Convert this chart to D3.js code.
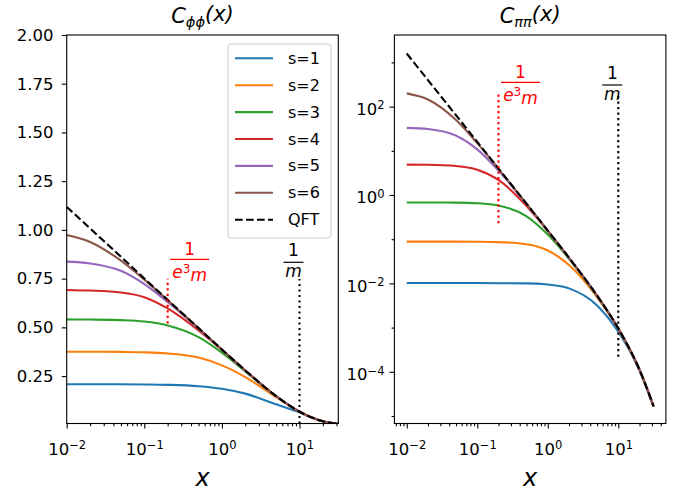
<!DOCTYPE html>
<html>
<head>
<meta charset="utf-8">
<script src="https://cdn.jsdelivr.net/npm/d3@7"></script>
<style>
  body { margin: 0; background: #fff; }
  text { font-family: "DejaVu Sans", sans-serif; }
</style>
</head>
<body>
<svg id="fig" width="680" height="493"></svg>
<script>
// sample positions (x) shared by every curve
const xs = [0.01, 0.02, 0.05, 0.1, 0.2, 0.5, 1, 2, 5, 10, 20, 31.62];

// C_phiphi(x)
const phiQFT = [1.118, 1.008, 0.862, 0.751, 0.641, 0.496, 0.386, 0.279, 0.147, 0.067, 0.0181, 0.0046];
const phiS1 = [0.208, 0.208, 0.208, 0.207, 0.205, 0.198, 0.185, 0.160, 0.105, 0.064, 0.0177, 0.0045];
const phiS2 = [0.375, 0.375, 0.374, 0.372, 0.366, 0.345, 0.305, 0.245, 0.142, 0.067, 0.0181, 0.0046];
const phiS3 = [0.541, 0.540, 0.537, 0.530, 0.510, 0.450, 0.370, 0.274, 0.147, 0.067, 0.0181, 0.0046];
const phiS4 = [0.692, 0.689, 0.679, 0.655, 0.597, 0.484, 0.384, 0.279, 0.147, 0.067, 0.0181, 0.0046];
const phiS5 = [0.837, 0.828, 0.790, 0.722, 0.630, 0.493, 0.386, 0.279, 0.147, 0.067, 0.0181, 0.0046];
const phiS6 = [0.974, 0.938, 0.842, 0.745, 0.639, 0.496, 0.386, 0.279, 0.147, 0.067, 0.0181, 0.0046];

// C_pipi(x) (log scale)
const piQFT = [1592, 397.9, 63.66, 15.91, 3.975, 0.6338, 0.1568, 0.0380, 0.005273, 0.000958, 0.0001113, 0.0000166];
const piS1 = [0.0102, 0.0102, 0.0102, 0.0102, 0.0101, 0.0100, 0.00943, 0.00771, 0.00318, 0.000805, 0.000105, 0.0000163];
const piS2 = [0.088, 0.088, 0.088, 0.0875, 0.0859, 0.0768, 0.0556, 0.0260, 0.00488, 0.000935, 0.000110, 0.0000166];
const piS3 = [0.678, 0.677, 0.671, 0.651, 0.580, 0.328, 0.127, 0.0359, 0.00515, 0.000958, 0.0001113, 0.0000166];
const piS4 = [4.86, 4.82, 4.53, 3.73, 2.19, 0.561, 0.152, 0.0375, 0.005273, 0.000958, 0.0001113, 0.0000166];
const piS5 = [33.0, 31.1, 22.0, 10.8, 3.56, 0.622, 0.155, 0.0380, 0.005273, 0.000958, 0.0001113, 0.0000166];
const piS6 = [199, 145, 49.7, 14.9, 3.91, 0.634, 0.1568, 0.0380, 0.005273, 0.000958, 0.0001113, 0.0000166];

const seriesNames = ["s=1", "s=2", "s=3", "s=4", "s=5", "s=6"];
const seriesColors = ["#1f77b4", "#ff7f0e", "#2ca02c", "#d62728", "#9467bd", "#8c564b"];

// vertical markers: x position, and the y span of each dotted line
const markX = [0.2, 10];
const phiMarkSpan = [[0.52, 0.75], [0.0067, 0.748]];
const piMarkSpan = [[0.23, 196], [0.00022, 200]];

const svg = d3.select("#fig");
const tickFont = "16.5px";

const panels = [
  {
    id: "L", left: 66.7, right: 338.3, top: 35, bottom: 423.5,
    x: d3.scaleLog().domain([0.01, 31.62]),
    y: d3.scaleLinear().domain([0.0067, 2]),
    qft: phiQFT, curves: [phiS1, phiS2, phiS3, phiS4, phiS5, phiS6],
    span: phiMarkSpan, sub: "\u03d5\u03d5", labelY: [259.3, 262.3]
  },
  {
    id: "R", left: 394.4, right: 665.9, top: 35, bottom: 423.5,
    x: d3.scaleLog().domain([Math.pow(10, -2.175), Math.pow(10, 1.675)]),
    y: d3.scaleLog().domain([Math.pow(10, -5.17), Math.pow(10, 3.62)]),
    qft: piQFT, curves: [piS1, piS2, piS3, piS4, piS5, piS6],
    span: piMarkSpan, sub: "\u03c0\u03c0", labelY: [82.3, 85]
  }
];

const supText = e => (e < 0 ? "\u2212" + (-e) : "" + e);

function logLabel(sel) {
  sel.each(function (d) {
    const t = d3.select(this);
    const e = Math.round(Math.log10(d));
    t.text("");
    t.append("tspan").text("10");
    t.append("tspan").attr("dy", "-0.5em").style("font-size", "11.5px").text(supText(e));
  });
}

function minorTicks(domain) {
  const out = [];
  const lo = Math.floor(Math.log10(domain[0])), hi = Math.ceil(Math.log10(domain[1]));
  for (let e = lo; e <= hi; e++) {
    for (let k = 2; k <= 9; k++) {
      const v = k * Math.pow(10, e);
      if (v >= domain[0] && v <= domain[1]) out.push(v);
    }
  }
  return out;
}

panels.forEach(p => {
  p.x.range([p.left, p.right]);
  p.y.range([p.bottom, p.top]);
  const w = p.right - p.left, h = p.bottom - p.top;

  svg.append("clipPath").attr("id", "clip" + p.id)
    .append("rect").attr("x", p.left).attr("y", p.top).attr("width", w).attr("height", h);

  const plot = svg.append("g").attr("clip-path", `url(#clip${p.id})`);
  const line = d3.line()
    .x((d, i) => p.x(xs[i]))
    .y(d => p.y(d))
    .curve(d3.curveMonotoneX);

  p.curves.forEach((vals, i) => {
    plot.append("path")
      .attr("d", line(vals))
      .attr("fill", "none")
      .attr("stroke", seriesColors[i])
      .attr("stroke-width", 2.1);
  });
  plot.append("path")
    .attr("d", line(p.qft))
    .attr("fill", "none")
    .attr("stroke", "#000")
    .attr("stroke-width", 2.1)
    .attr("stroke-dasharray", "7.7,3.3");

  // dotted markers 1/(e^3 m) and 1/m
  markX.forEach((mx, i) => {
    plot.append("line")
      .attr("x1", p.x(mx)).attr("x2", p.x(mx))
      .attr("y1", p.y(p.span[i][0])).attr("y2", p.y(p.span[i][1]))
      .attr("stroke", i === 0 ? "#ff0000" : "#000")
      .attr("stroke-width", 2.1)
      .attr("stroke-dasharray", "2.1,3.4");
  });

  // fraction labels
  const fr = [
    { x: p.x(0.2) + 22, color: "#ff0000", den: "e3m", by: p.labelY[0] },
    { x: p.x(10) - 6, color: "#000", den: "m", by: p.labelY[1] }
  ];
  fr.forEach(f => {
    const g = svg.append("g").attr("fill", f.color);
    const isM = f.den === "m";
    g.append("text").attr("x", f.x).attr("y", f.by - (isM ? 6.5 : 4)).attr("text-anchor", "middle")
      .style("font-size", "17px").text("1");
    const halfW = isM ? 10 : 19.5;
    g.append("line").attr("x1", f.x - halfW).attr("x2", f.x + halfW)
      .attr("y1", f.by).attr("y2", f.by).attr("stroke", f.color).attr("stroke-width", 1.2);
    const d = g.append("text").attr("x", f.x).attr("y", f.by + (isM ? 15 : 19)).attr("text-anchor", "middle")
      .style("font-size", "17px").style("font-style", "italic");
    if (isM) {
      d.text("m");
    } else {
      d.append("tspan").text("e");
      d.append("tspan").attr("dy", "-0.45em").style("font-size", "12px").style("font-style", "normal").text("3");
      d.append("tspan").attr("dy", "0.45em").text("m");
    }
  });

  // axes
  const xMajor = [0.01, 0.1, 1, 10];
  const gx = svg.append("g").attr("transform", `translate(0,${p.bottom})`)
    .call(d3.axisBottom(p.x).tickValues(xMajor).tickSize(4.9));
  gx.selectAll("text").attr("y", 31.5).attr("dy", null)
    .style("font-size", tickFont).attr("fill", "#000").call(logLabel);
  svg.append("g").attr("transform", `translate(0,${p.bottom})`)
    .call(d3.axisBottom(p.x).tickValues(minorTicks(p.x.domain())).tickSize(2.8).tickFormat(""));

  let gy;
  if (p.id === "L") {
    gy = svg.append("g").attr("transform", `translate(${p.left},0)`)
      .call(d3.axisLeft(p.y).tickValues([0.25, 0.5, 0.75, 1, 1.25, 1.5, 1.75, 2])
        .tickFormat(d3.format(".2f")).tickSize(4.9).tickPadding(8.3));
    gy.selectAll("text").style("font-size", tickFont).attr("fill", "#000");
  } else {
    gy = svg.append("g").attr("transform", `translate(${p.left},0)`)
      .call(d3.axisLeft(p.y).tickValues([1e-4, 1e-2, 1, 100]).tickSize(4.9).tickPadding(5));
    gy.selectAll("text").attr("dy", "8px")
      .style("font-size", tickFont).attr("fill", "#000").call(logLabel);
    svg.append("g").attr("transform", `translate(${p.left},0)`)
      .call(d3.axisLeft(p.y).tickValues([1e-5, 1e-3, 1e-1, 10, 1000]).tickSize(2.8).tickFormat(""));
  }
  svg.selectAll(".domain").remove();
  svg.selectAll(".tick line").attr("stroke", "#000").attr("stroke-width", 1.1);

  svg.append("rect")
    .attr("x", p.left).attr("y", p.top).attr("width", w).attr("height", h)
    .attr("fill", "none").attr("stroke", "#000").attr("stroke-width", 1.1);

  // title and x label
  const cx = (p.left + p.right) / 2;
  const t = svg.append("text").attr("x", cx).attr("y", 23).attr("text-anchor", "middle")
    .style("font-size", "21px").style("font-style", "italic");
  t.append("tspan").text("C");
  t.append("tspan").attr("dy", "0.3em").style("font-size", "14.5px").text(p.sub);
  t.append("tspan").attr("dy", "-0.3em").text("(x)");

  svg.append("text").attr("x", cx).attr("y", 486).attr("text-anchor", "middle")
    .style("font-size", "24px").style("font-style", "italic").text("x");
});

// legend on the left panel
const lg = svg.append("g");
lg.append("rect").attr("x", 228).attr("y", 44).attr("width", 103).attr("height", 194).attr("rx", 3)
  .attr("fill", "#fff").attr("fill-opacity", 0.8).attr("stroke", "#ccc");
const legendNames = seriesNames.concat(["QFT"]);
legendNames.forEach((name, i) => {
  const y = 58.3 + i * 26.9;
  lg.append("line").attr("x1", 235).attr("x2", 273).attr("y1", y).attr("y2", y)
    .attr("stroke", i < 6 ? seriesColors[i] : "#000").attr("stroke-width", 2.1)
    .attr("stroke-dasharray", i < 6 ? null : "7.7,3.3");
  lg.append("text").attr("x", 288).attr("y", y + 5.5).style("font-size", "16px").text(name);
});
</script>
</body>
</html>
